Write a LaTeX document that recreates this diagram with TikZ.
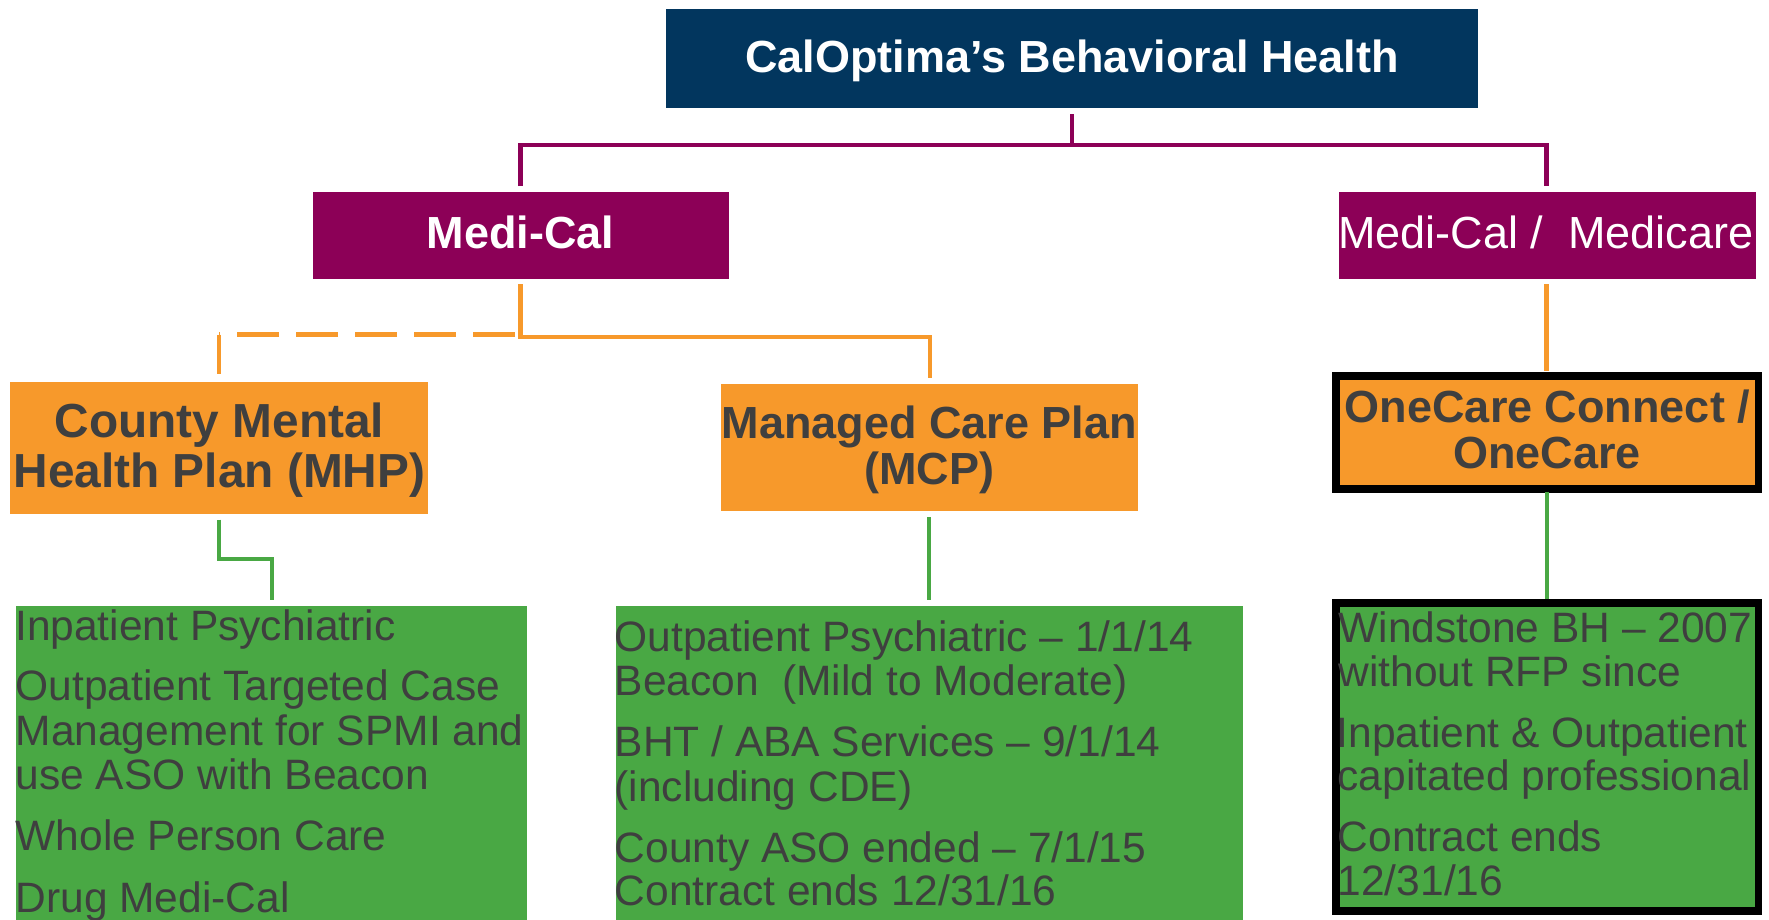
\documentclass[tikz,border=0pt]{standalone}
\usepackage{fontspec}
\setmainfont{Liberation Sans}
\definecolor{navy}{HTML}{02365E}
\definecolor{plum}{HTML}{8C0057}
\definecolor{orng}{HTML}{F7992B}
\definecolor{grn}{HTML}{49A844}
\definecolor{txt}{HTML}{3F3F3F}
\tikzset{
  box/.style={anchor=north west, inner sep=0pt, outer sep=0pt},
  hd/.style={anchor=base, inner sep=0pt, font=\bfseries\fontsize{45}{54}\selectfont},
  wt/.style={anchor=base, inner sep=0pt, text=white, font=\fontsize{45}{54}\selectfont},
  bt/.style={anchor=base west, inner sep=0pt, text=txt, font=\fontsize{42.5}{50}\selectfont},
  pline/.style={draw=plum, line width=4.5pt},
  oline/.style={draw=orng, line width=4.2pt},
  gline/.style={draw=grn, line width=4pt},
  blk/.style={draw=black, line width=7.5pt}
}
\begin{document}
\begin{tikzpicture}[x=1pt,y=-1pt]
\useasboundingbox (0,0) rectangle (1769,919);
\clip (0,0) rectangle (1769,919);
% boxes
\node[box, fill=navy, minimum width=812pt, minimum height=99pt] (top) at (666,9) {};
\node[box, fill=plum, minimum width=416.5pt, minimum height=87pt] (mc) at (312.6,192) {};
\node[box, fill=plum, minimum width=417.5pt, minimum height=87pt] (mm) at (1338.6,192) {};
\node[box, fill=orng, minimum width=418pt, minimum height=131.6pt] (mhp) at (10.3,382) {};
\node[box, fill=orng, minimum width=417pt, minimum height=127pt] (mcp) at (721,384) {};
\node[box, fill=orng, minimum width=430pt, minimum height=120.5pt] (oc) at (1332,372) {};
\draw[blk] ([xshift=3.75pt,yshift=-3.75pt]oc.north west) rectangle ([xshift=-3.75pt,yshift=3.75pt]oc.south east);
\node[box, fill=grn, minimum width=511pt, minimum height=330pt] (gl) at (16,606) {};
\node[box, fill=grn, minimum width=627pt, minimum height=330pt] (gm) at (616,606) {};
\node[box, fill=grn, minimum width=430pt, minimum height=315.5pt] (gr) at (1332,599) {};
\draw[blk] ([xshift=3.75pt,yshift=-3.75pt]gr.north west) rectangle ([xshift=-3.75pt,yshift=3.75pt]gr.south east);
% titles
\node[hd, text=white] (ttl) at (1072,72.7) {CalOptima’s Behavioral Health};
\node[hd, text=white] (mct) at (520.5,248.3) {Medi-Cal};
\node[wt] (mmt) at (1546,248.3) {Medi-Cal /\ \ Medicare};
\node[hd, text=txt, font=\bfseries\fontsize{47.8}{54}\selectfont] (mhp1) at (219.5,437.6) {County Mental};
\node[hd, text=txt, font=\bfseries\fontsize{47.8}{54}\selectfont] (mhp2) at (219.5,487) {Health Plan (MHP)};
\node[hd, text=txt] (mcp1) at (929.5,438) {Managed Care Plan};
\node[hd, text=txt] (mcp2) at (929.5,484) {(MCP)};
\node[hd, text=txt] (oc1) at (1547.5,422) {OneCare Connect /};
\node[hd, text=txt] (oc2) at (1547,468) {OneCare};
% left green text
\node[bt] (l1) at (15,640.5) {Inpatient Psychiatric};
\node[bt] (l2) at (15.5,700.5) {Outpatient Targeted Case};
\node[bt] (l3) at (15.5,745) {Management for SPMI and};
\node[bt] (l4) at (15.5,789) {use ASO with Beacon};
\node[bt] (l5) at (15.5,850.5) {Whole Person Care};
\node[bt] (l6) at (15.5,912) {Drug Medi-Cal};
% middle green text
\node[bt] (m1) at (614.5,651.5) {Outpatient Psychiatric – 1/1/14};
\node[bt] (m2) at (614.5,695.5) {Beacon\ \ (Mild to Moderate)};
\node[bt] (m3) at (614.5,756.5) {BHT / ABA Services – 9/1/14};
\node[bt] (m4) at (614.5,801) {(including CDE)};
\node[bt] (m5) at (614.5,862) {County ASO ended – 7/1/15};
\node[bt] (m6) at (614.5,905.5) {Contract ends 12/31/16};
% right green text
\node[bt] (r1) at (1338.5,642) {Windstone BH – 2007};
\node[bt] (r2) at (1338.5,686) {without RFP since};
\node[bt] (r3) at (1336.5,747.5) {Inpatient \& Outpatient};
\node[bt] (r4) at (1337.5,790.5) {capitated professional};
\node[bt] (r5) at (1337.5,851) {Contract ends};
\node[bt] (r6) at (1337.5,895.5) {12/31/16};
% connector coordinates
\coordinate (tB) at (1072,114);
\coordinate (tJ) at (1072,145);
\coordinate (pL) at (520.5,145);
\coordinate (pR) at (1546.5,145);
\coordinate (pLb) at (520.5,186);
\coordinate (pRb) at (1546.5,186);
\coordinate (oT) at (520.5,284);
\coordinate (oJ) at (520.5,337);
\coordinate (oM) at (930,337);
\coordinate (oMb) at (930,378);
\coordinate (dS) at (515,334.5);
\coordinate (dE) at (219,334.5);
\coordinate (oLb) at (219,374);
\coordinate (oRT) at (1546.5,284);
\coordinate (oRb) at (1546.5,371);
\coordinate (gLT) at (219,519.5);
\coordinate (gL1) at (219,559);
\coordinate (gL2) at (272,559);
\coordinate (gLb) at (272,600);
\coordinate (gMT) at (929,517);
\coordinate (gMb) at (929,600);
\coordinate (gRT) at (1546.5,492);
\coordinate (gRb) at (1546.5,599);
% purple
\draw[pline] (tB) -- (tJ);
\draw[pline] (pLb) -- (pL) -- (pR) -- (pRb);
% orange
\draw[oline] (oT) -- (oJ) -- (oM) -- (oMb);
\draw[oline, dash pattern=on 42pt off 17pt] (dS) -- (dE);
\draw[oline] (dE) -- (oLb);
\draw[oline] (oRT) -- (oRb);
% green
\draw[gline] (gLT) -- (gL1) -- (gL2) -- (gLb);
\draw[gline] (gMT) -- (gMb);
\draw[gline] (gRT) -- (gRb);
\end{tikzpicture}
\end{document}
